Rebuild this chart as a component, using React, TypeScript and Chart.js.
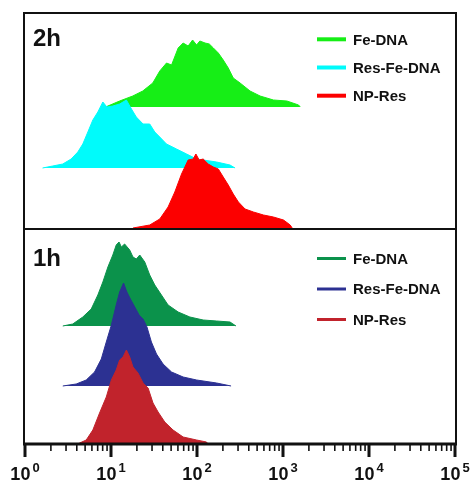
import { useEffect, useRef } from "react";
import { Chart, registerables } from "chart.js";

Chart.register(...registerables);

// ---- 2 h: fluorescence intensity (FL) bins and event counts ----
const FE_DNA_2H_FL = [8.65, 12.6, 17.9, 23.4, 30.6, 36.9, 44.2, 50.6, 60.4, 69.0, 78.9, 88.9, 98.9, 108, 124, 139, 155, 177, 202, 231, 264, 317, 414, 542, 774, 1110, 1517, 1588];
const FE_DNA_2H_COUNT = [0, 6, 11, 16, 24, 36, 44, 42, 59, 64, 61, 67, 62, 66, 64, 63, 59, 54, 47, 39, 29, 24, 16, 11, 7, 6, 2, 0];

const RES_FE_DNA_2H_FL = [1.6, 2.1, 2.75, 3.44, 4.11, 4.7, 5.38, 6.15, 7.03, 8.04, 8.96, 10.5, 12.6, 15.1, 17.3, 19.7, 23.6, 28.2, 32.3, 36.9, 44.2, 57.8, 75.7, 98.9, 169, 242, 277];
const RES_FE_DNA_2H_COUNT = [0, 2, 4, 9, 16, 24, 36, 48, 56, 66, 61, 62, 64, 68, 59, 51, 44, 44, 36, 31, 24, 19, 14, 9, 6, 3, 0];

const NP_RES_2H_FL = [18.0, 28.2, 36.9, 46.1, 55.2, 66.1, 78.9, 90.3, 97.1, 106, 118, 135, 155, 177, 202, 231, 264, 303, 362, 453, 593, 774, 1014, 1213, 1279];
const NP_RES_2H_COUNT = [0, 3, 9, 21, 36, 54, 68, 69, 74, 68, 69, 64, 61, 59, 51, 43, 34, 26, 19, 16, 13, 11, 8, 3, 0];

// ---- 1 h ----
const FE_DNA_1H_FL = [2.75, 3.59, 4.7, 5.89, 7.03, 8.04, 9.2, 10.5, 11.5, 12.4, 13.2, 14.4, 16.5, 18.0, 19.7, 21.6, 24.7, 28.2, 32.3, 38.6, 46.1, 60.4, 82.6, 118, 169, 242, 284];
const FE_DNA_1H_COUNT = [0, 2, 9, 17, 31, 44, 59, 71, 81, 84, 79, 82, 76, 69, 67, 71, 64, 51, 41, 31, 21, 14, 9, 6, 5, 4, 0];

const RES_FE_DNA_1H_FL = [2.75, 3.94, 5.15, 6.44, 7.71, 8.81, 10.1, 11.5, 12.6, 14.0, 15.3, 16.8, 18.9, 21.2, 23.6, 26.2, 29.5, 33.8, 40.3, 50.6, 69.0, 98.9, 169, 249];
const RES_FE_DNA_1H_COUNT = [0, 2, 6, 14, 27, 44, 61, 81, 94, 103, 94, 87, 79, 71, 67, 59, 44, 32, 22, 14, 9, 6, 3, 0];

const NP_RES_1H_FL = [4.08, 5.15, 6.15, 7.36, 8.81, 10.1, 11.5, 12.6, 13.8, 15.1, 16.5, 18.0, 20.6, 23.6, 27.0, 30.8, 35.3, 42.2, 52.7, 69.0, 98.9, 129, 134];
const NP_RES_1H_COUNT = [0, 4, 14, 31, 47, 64, 74, 84, 87, 94, 87, 77, 71, 61, 56, 41, 32, 22, 14, 7, 4, 2, 0];

// Series names, panel names and axis decades
const SERIES_NAMES = ["Fe-DNA", "Res-Fe-DNA", "NP-Res"];
const PANEL_NAMES = ["2h", "1h"];
const DECADES = [0, 1, 2, 3, 4, 5];

// Staggered baselines of each histogram (count units), top to bottom
const OFFSETS_2H = [337, 276, 216];
const OFFSETS_1H = [118, 58, 0];
const PANEL_SPLIT = 215;
const Y_MAX = 431;

const COLORS_2H = ["#16ee16", "#00fbfb", "#fc0000"];
const COLORS_1H = ["#0b924b", "#2c3192", "#c1232c"];

const FONT = "'Liberation Sans', Arial, sans-serif";

function histogram(label: string, fl: number[], counts: number[], offset: number, color: string) {
  return {
    label,
    data: fl.map((v, i) => ({ x: v, y: offset + counts[i] })),
    borderColor: color,
    backgroundColor: color,
    borderWidth: 1,
    pointRadius: 0,
    tension: 0,
    fill: { value: offset },
  };
}

const overlay = {
  id: "panelOverlay",
  afterDraw(chart: any) {
    const { ctx, chartArea: a, scales } = chart;
    const xs = scales.x;
    const ys = scales.y;
    const seg = (x1: number, y1: number, x2: number, y2: number) => {
      ctx.beginPath();
      ctx.moveTo(x1, y1);
      ctx.lineTo(x2, y2);
      ctx.stroke();
    };
    ctx.save();
    ctx.strokeStyle = "#111";
    ctx.lineCap = "butt";

    // frame and panel divider
    ctx.lineWidth = 2;
    ctx.strokeRect(a.left - 1, a.top, a.right - a.left + 2, a.bottom - a.top);
    const yd = ys.getPixelForValue(PANEL_SPLIT);
    seg(a.left - 1, yd, a.right + 1, yd);

    // x axis line
    ctx.lineWidth = 3;
    seg(a.left - 2, a.bottom, a.right + 2, a.bottom);

    // major and minor ticks
    DECADES.forEach((d) => {
      const px = xs.getPixelForValue(Math.pow(10, d));
      ctx.lineWidth = 3;
      seg(px, a.bottom, px, a.bottom + 13);
      if (d < DECADES[DECADES.length - 1]) {
        ctx.lineWidth = 1.6;
        for (let m = 2; m <= 9; m++) {
          const mx = xs.getPixelForValue(m * Math.pow(10, d));
          seg(mx, a.bottom, mx, a.bottom + 7);
        }
      }
    });

    // tick labels: 10 with superscript exponent
    ctx.fillStyle = "#111";
    ctx.textBaseline = "alphabetic";
    ctx.textAlign = "left";
    DECADES.forEach((d) => {
      const px = xs.getPixelForValue(Math.pow(10, d));
      ctx.font = `bold 18px ${FONT}`;
      const wBase = ctx.measureText("10").width;
      ctx.font = `bold 13px ${FONT}`;
      const wExp = ctx.measureText(String(d)).width;
      const start = px - (wBase + 2 + wExp) / 2;
      ctx.font = `bold 18px ${FONT}`;
      ctx.fillText("10", start, a.bottom + 36);
      ctx.font = `bold 13px ${FONT}`;
      ctx.fillText(String(d), start + wBase + 2, a.bottom + 28);
    });

    // panel titles
    ctx.font = `bold 24px ${FONT}`;
    ctx.fillText(PANEL_NAMES[0], a.left + 8, a.top + 33);
    ctx.fillText(PANEL_NAMES[1], a.left + 8, yd + 36.5);

    // legends
    const legend = (top: number, gap: number, colors: string[], thick: number) => {
      SERIES_NAMES.forEach((name, i) => {
        const ly = top + i * gap;
        ctx.strokeStyle = colors[i];
        ctx.lineWidth = thick;
        seg(317, ly, 346, ly);
        ctx.fillStyle = "#111";
        ctx.font = `bold 15px ${FONT}`;
        ctx.fillText(name, 353, ly + 5.3);
      });
    };
    legend(a.top + 26.3, 28.2, COLORS_2H, 4);
    legend(yd + 29.5, 30.5, COLORS_1H, 3);

    ctx.restore();
  },
};

export default function App() {
  const canvasRef = useRef<HTMLCanvasElement>(null);

  useEffect(() => {
    const canvas = canvasRef.current;
    if (!canvas) return;
    // dataset 0 is painted last, so the front-most histogram of each panel comes first
    const datasets = [
      histogram(SERIES_NAMES[2] + " 2h", NP_RES_2H_FL, NP_RES_2H_COUNT, OFFSETS_2H[2], COLORS_2H[2]),
      histogram(SERIES_NAMES[1] + " 2h", RES_FE_DNA_2H_FL, RES_FE_DNA_2H_COUNT, OFFSETS_2H[1], COLORS_2H[1]),
      histogram(SERIES_NAMES[0] + " 2h", FE_DNA_2H_FL, FE_DNA_2H_COUNT, OFFSETS_2H[0], COLORS_2H[0]),
      histogram(SERIES_NAMES[2] + " 1h", NP_RES_1H_FL, NP_RES_1H_COUNT, OFFSETS_1H[2], COLORS_1H[2]),
      histogram(SERIES_NAMES[1] + " 1h", RES_FE_DNA_1H_FL, RES_FE_DNA_1H_COUNT, OFFSETS_1H[1], COLORS_1H[1]),
      histogram(SERIES_NAMES[0] + " 1h", FE_DNA_1H_FL, FE_DNA_1H_COUNT, OFFSETS_1H[0], COLORS_1H[0]),
    ];
    const chart = new Chart(canvas, {
      type: "line",
      data: { datasets } as any,
      options: {
        animation: false,
        responsive: false,
        devicePixelRatio: 1,
        layout: { padding: { left: 25, right: 17, top: 13, bottom: 44 } },
        scales: {
          x: { type: "logarithmic", min: 1, max: 100000, display: false },
          y: { type: "linear", min: 0, max: Y_MAX, display: false },
        },
        plugins: {
          legend: { display: false },
          tooltip: { enabled: false },
        },
      },
      plugins: [overlay],
    });
    return () => chart.destroy();
  }, []);

  return (
    <div style={{ position: "absolute", left: 0, top: 0, width: 472, height: 488, background: "#fff" }}>
      <canvas ref={canvasRef} width={472} height={488} style={{ display: "block" }} />
    </div>
  );
}
